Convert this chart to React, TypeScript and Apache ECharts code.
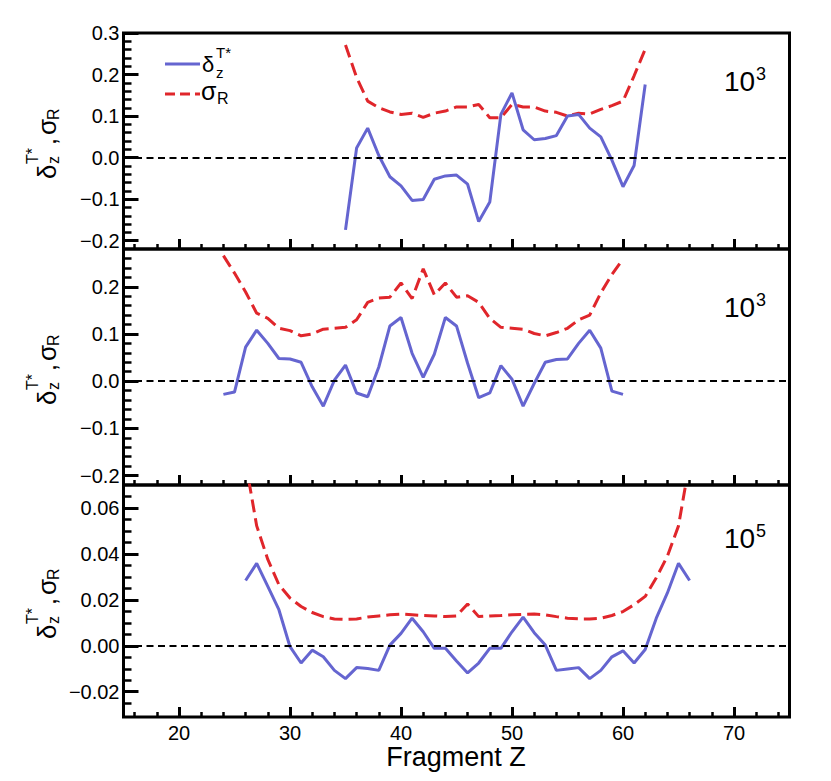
import React, { useEffect, useRef } from "react";
import * as echarts from "echarts";

// ---------- data ----------
const p1Z = [35, 36, 37, 38, 39, 40, 41, 42, 43, 44, 45, 46, 47, 48, 49, 50, 51, 52, 53, 54, 55, 56, 57, 58, 59, 60, 61, 62];
const p1Delta = [-0.174, 0.023, 0.071, 0.005, -0.046, -0.068, -0.103, -0.101, -0.052, -0.044, -0.042, -0.064, -0.154, -0.107, 0.104, 0.156, 0.067, 0.043, 0.046, 0.053, 0.1, 0.104, 0.071, 0.05, -0.006, -0.07, -0.019, 0.176];
const p1Sigma = [0.271, 0.193, 0.136, 0.12, 0.11, 0.104, 0.107, 0.097, 0.107, 0.112, 0.122, 0.122, 0.128, 0.096, 0.096, 0.128, 0.122, 0.122, 0.112, 0.109, 0.1, 0.107, 0.105, 0.116, 0.125, 0.136, 0.197, 0.261];

const p2Z = [24, 25, 26, 27, 28, 29, 30, 31, 32, 33, 34, 35, 36, 37, 38, 39, 40, 41, 42, 43, 44, 45, 46, 47, 48, 49, 50, 51, 52, 53, 54, 55, 56, 57, 58, 59, 60];
const p2Delta = [-0.028, -0.023, 0.072, 0.108, 0.08, 0.048, 0.047, 0.04, -0.012, -0.053, 0.002, 0.034, -0.025, -0.033, 0.03, 0.117, 0.135, 0.059, 0.008, 0.057, 0.135, 0.117, 0.038, -0.035, -0.025, 0.033, 0.004, -0.053, -0.005, 0.04, 0.046, 0.047, 0.08, 0.108, 0.07, -0.021, -0.028];
const p2Sigma = [0.266, 0.229, 0.189, 0.144, 0.133, 0.112, 0.107, 0.096, 0.1, 0.11, 0.112, 0.114, 0.13, 0.167, 0.176, 0.178, 0.208, 0.175, 0.238, 0.183, 0.208, 0.178, 0.181, 0.167, 0.133, 0.114, 0.112, 0.11, 0.101, 0.096, 0.103, 0.112, 0.13, 0.14, 0.187, 0.226, 0.259];

const p3Z = [26, 27, 28, 29, 30, 31, 32, 33, 34, 35, 36, 37, 38, 39, 40, 41, 42, 43, 44, 45, 46, 47, 48, 49, 50, 51, 52, 53, 54, 55, 56, 57, 58, 59, 60, 61, 62, 63, 64, 65, 66];
const p3Delta = [0.0284, 0.0359, 0.0259, 0.0157, -0.0004, -0.0075, -0.0019, -0.0048, -0.0107, -0.0143, -0.0095, -0.0099, -0.0107, 0.0003, 0.0054, 0.012, 0.0061, -0.0011, -0.0011, -0.0066, -0.0118, -0.0075, -0.0011, -0.0011, 0.0061, 0.0125, 0.0057, 0.0003, -0.0107, -0.0101, -0.0095, -0.0143, -0.0107, -0.0048, -0.0022, -0.0075, -0.0016, 0.012, 0.023, 0.0359, 0.0284];
const p3Sigma = [0.08, 0.0522, 0.0376, 0.0266, 0.0208, 0.0171, 0.0145, 0.0127, 0.0117, 0.0115, 0.0117, 0.0125, 0.013, 0.0135, 0.0138, 0.0135, 0.0132, 0.013, 0.0127, 0.013, 0.0182, 0.0127, 0.013, 0.0132, 0.0135, 0.0137, 0.0138, 0.0135, 0.0127, 0.012, 0.0117, 0.0117, 0.012, 0.0132, 0.0149, 0.0179, 0.0215, 0.0296, 0.039, 0.0522, 0.08];

const xMajorTicks = [20, 30, 40, 50, 60, 70];
const xMinorTicks = [16, 18, 22, 24, 26, 28, 32, 34, 36, 38, 42, 44, 46, 48, 52, 54, 56, 58, 62, 64, 66, 68, 72, 74];
const p1YMajor = [-0.2, -0.1, 0, 0.1, 0.2, 0.3];
const p1YMinor = [-0.18, -0.16, -0.14, -0.12, -0.08, -0.06, -0.04, -0.02, 0.02, 0.04, 0.06, 0.08, 0.12, 0.14, 0.16, 0.18, 0.22, 0.24, 0.26, 0.28];
const p2YMajor = [-0.2, -0.1, 0, 0.1, 0.2];
const p2YMinor = [-0.18, -0.16, -0.14, -0.12, -0.08, -0.06, -0.04, -0.02, 0.02, 0.04, 0.06, 0.08, 0.12, 0.14, 0.16, 0.18, 0.22, 0.24, 0.26];
const p3YMajor = [-0.02, 0, 0.02, 0.04, 0.06];
const p3YMinor = [-0.025, -0.015, -0.01, -0.005, 0.005, 0.01, 0.015, 0.025, 0.03, 0.035, 0.045, 0.05, 0.055, 0.065];

const panelLabels = [
  { base: "10", exp: "3" },
  { base: "10", exp: "3" },
  { base: "10", exp: "5" },
];

const BLUE = "#6565d0";
const RED = "#e0262b";
const FONT = "'Liberation Sans', Arial, Helvetica, sans-serif";

const grids = [
  { top: 33, height: 216, yMin: -0.22, yMax: 0.3, major: p1YMajor, minor: p1YMinor, dec: 1 },
  { top: 249, height: 236, yMin: -0.22, yMax: 0.28, major: p2YMajor, minor: p2YMinor, dec: 1 },
  { top: 485, height: 232, yMin: -0.031, yMax: 0.07, major: p3YMajor, minor: p3YMinor, dec: 2 },
];
const panelSeries = [
  { z: p1Z, d: p1Delta, s: p1Sigma },
  { z: p2Z, d: p2Delta, s: p2Sigma },
  { z: p3Z, d: p3Delta, s: p3Sigma },
];

const GRID_LEFT = 123.5;
const GRID_WIDTH = 666;

function txt(text: string, x: number, baseline: number, fs: number, align = "left", extra: any = {}) {
  return {
    type: "text",
    x,
    y: baseline - 0.3465 * fs,
    silent: true,
    style: {
      text,
      font: `${fs}px ${FONT}`,
      fill: "#000",
      align,
      verticalAlign: "middle",
      ...extra,
    },
  };
}

function yTitle(cy: number) {
  return {
    type: "group",
    x: 56,
    y: cy,
    rotation: Math.PI / 2,
    children: [
      txt("δ", -38, 0, 26),
      txt("T*", -23, -18, 16),
      txt("z", -23, 3, 16),
      txt(",", -4, 0, 25),
      txt("σ", 6, 0, 26),
      txt("R", 21, 3, 16),
    ],
  };
}

export default function App() {
  const ref = useRef<HTMLDivElement>(null);
  useEffect(() => {
    document.body.style.margin = "0";
    if (!ref.current) return;
    const chart = echarts.init(ref.current, undefined, { renderer: "svg" });

    const gridOpts: any[] = [];
    const xAxes: any[] = [];
    const yAxes: any[] = [];
    const series: any[] = [];

    grids.forEach((g, i) => {
      gridOpts.push({
        left: GRID_LEFT,
        width: GRID_WIDTH,
        top: g.top,
        height: g.height,
        show: true,
        borderColor: "#000",
        borderWidth: 3,
        backgroundColor: "transparent",
        containLabel: false,
      });
      const showX = i === 2;
      xAxes.push({
        type: "value",
        gridIndex: i,
        position: "bottom",
        min: 15,
        max: 75,
        axisLine: { show: false, onZero: false },
        splitLine: { show: false },
        axisTick: { show: true, inside: true, length: 10, customValues: xMajorTicks, lineStyle: { color: "#000", width: 3 } },
        axisLabel: {
          show: showX,
          customValues: xMajorTicks,
          margin: 6,
          fontSize: 20,
          fontFamily: FONT,
          color: "#000",
        },
      });
      xAxes.push({
        type: "value",
        gridIndex: i,
        position: "bottom",
        min: 15,
        max: 75,
        axisLine: { show: false, onZero: false },
        splitLine: { show: false },
        axisTick: { show: true, inside: true, length: 5, customValues: xMinorTicks, lineStyle: { color: "#000", width: 2.5 } },
        axisLabel: { show: false },
      });
      yAxes.push({
        type: "value",
        gridIndex: i,
        position: "left",
        min: g.yMin,
        max: g.yMax,
        axisLine: { show: false, onZero: false },
        splitLine: { show: false },
        axisTick: { show: true, inside: true, length: 15, customValues: g.major, lineStyle: { color: "#000", width: 3 } },
        axisLabel: {
          show: true,
          customValues: g.major,
          margin: 4,
          fontSize: 20,
          fontFamily: FONT,
          color: "#000",
          formatter: (v: number) => v.toFixed(g.dec).replace("-", "\u2212"),
        },
      });
      yAxes.push({
        type: "value",
        gridIndex: i,
        position: "left",
        min: g.yMin,
        max: g.yMax,
        axisLine: { show: false, onZero: false },
        splitLine: { show: false },
        axisTick: { show: true, inside: true, length: 8, customValues: g.minor, lineStyle: { color: "#000", width: 2.5 } },
        axisLabel: { show: false },
      });
      const ps = panelSeries[i];
      series.push({
        type: "line",
        name: "sigma" + i,
        xAxisIndex: 2 * i,
        yAxisIndex: 2 * i,
        data: ps.z.map((z, k) => [z, ps.s[k]]),
        showSymbol: false,
        symbol: "none",
        clip: true,
        lineStyle: { color: RED, width: 3, type: [13, 6], cap: "butt" },
        z: 3,
      });
      series.push({
        type: "line",
        name: "delta" + i,
        xAxisIndex: 2 * i,
        yAxisIndex: 2 * i,
        data: ps.z.map((z, k) => [z, ps.d[k]]),
        showSymbol: false,
        symbol: "none",
        clip: true,
        lineStyle: { color: BLUE, width: 3 },
        z: 4,
        markLine: {
          silent: true,
          symbol: ["none", "none"],
          label: { show: false },
          lineStyle: { color: "#000", width: 2, type: [7, 4.5] },
          data: [{ yAxis: 0 }],
        },
      });
    });

    const graphics: any[] = [];
    // legend
    graphics.push({
      type: "line",
      silent: true,
      shape: { x1: 165, y1: 64, x2: 200, y2: 64 },
      style: { stroke: BLUE, lineWidth: 3 },
    });
    graphics.push(txt("δ", 202, 72, 22));
    graphics.push(txt("T*", 216, 58, 15));
    graphics.push(txt("z", 216, 78, 15));
    graphics.push({
      type: "line",
      silent: true,
      shape: { x1: 165, y1: 94, x2: 200, y2: 94 },
      style: { stroke: RED, lineWidth: 3, lineDash: [10, 5] },
    });
    graphics.push(txt("σ", 201, 100, 25));
    graphics.push(txt("R", 217, 104, 16));

    // panel labels
    const labelBaselines = [91, 317, 548];
    panelLabels.forEach((pl, i) => {
      graphics.push(txt(pl.base, 724, labelBaselines[i], 28));
      graphics.push(txt(pl.exp, 756, labelBaselines[i] - 11, 18));
    });

    // y titles
    grids.forEach((g) => graphics.push(yTitle(g.top + g.height / 2)));

    // x title
    graphics.push(txt("Fragment Z", 456, 766, 27, "center"));

    chart.setOption({
      animation: false,
      backgroundColor: "#fff",
      grid: gridOpts,
      xAxis: xAxes,
      yAxis: yAxes,
      series,
      graphic: graphics,
    });
    return () => chart.dispose();
  }, []);
  return <div ref={ref} style={{ width: 831, height: 781 }} />;
}
